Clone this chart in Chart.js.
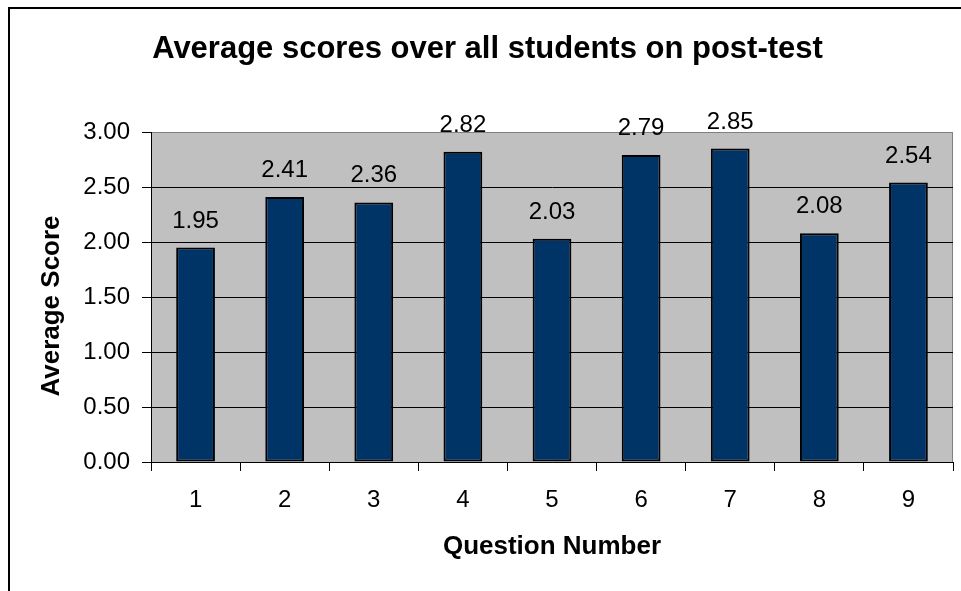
<!DOCTYPE html>
<html>
<head>
<meta charset="utf-8">
<title>Average scores over all students on post-test</title>
<script src="https://cdn.jsdelivr.net/npm/chart.js@4/dist/chart.umd.min.js"></script>
<style>
  html, body { margin: 0; padding: 0; background: #fff; }
  #chart { display: block; }
</style>
</head>
<body>
<canvas id="chart" width="961" height="591"></canvas>
<script>
// chart data
const questionNumbers = ['1', '2', '3', '4', '5', '6', '7', '8', '9'];
const averageScores = [1.95, 2.41, 2.36, 2.82, 2.03, 2.79, 2.85, 2.08, 2.54];
const scoreTicks = [0, 0.5, 1, 1.5, 2, 2.5, 3];

const chartTitle = 'Average scores over all students on post-test';
const xTitle = 'Question Number';
const yTitle = 'Average Score';

const FONT = "'Liberation Sans', Arial, sans-serif";

// grey plot area + outer chart border (Excel style)
const backdrop = {
    id: 'backdrop',
    beforeDraw(chart) {
        const ctx = chart.ctx;
        const a = chart.chartArea;
        ctx.save();
        ctx.fillStyle = '#fff';
        ctx.fillRect(0, 0, chart.width, chart.height);
        ctx.strokeStyle = '#000';
        ctx.lineWidth = 2;
        ctx.strokeRect(9, 8, chart.width + 50, chart.height + 50);
        ctx.fillStyle = '#c0c0c0';
        ctx.fillRect(a.left, a.top, a.right - a.left, a.bottom - a.top);
        ctx.strokeStyle = '#808080';
        ctx.lineWidth = 1;
        ctx.beginPath();
        ctx.moveTo(a.left, a.top + 0.5);
        ctx.lineTo(a.right - 0.5, a.top + 0.5);
        ctx.lineTo(a.right - 0.5, a.bottom);
        ctx.stroke();
        ctx.restore();
    }
};

// value labels above the bars and the y axis title
const labels = {
    id: 'labels',
    afterDatasetsDraw(chart) {
        const ctx = chart.ctx;
        const meta = chart.getDatasetMeta(0);
        ctx.save();
        ctx.fillStyle = '#000';
        ctx.font = '24px ' + FONT;
        ctx.textAlign = 'center';
        ctx.textBaseline = 'alphabetic';
        meta.data.forEach((bar, i) => {
            ctx.fillText(averageScores[i].toFixed(2), bar.x, bar.y - 20);
        });

        ctx.font = 'bold 26px ' + FONT;
        ctx.textBaseline = 'middle';
        ctx.translate(52, 306);
        ctx.rotate(-Math.PI / 2);
        ctx.fillText(yTitle, 0, 0);
        ctx.restore();
    }
};

new Chart(document.getElementById('chart'), {
    type: 'bar',
    data: {
        labels: questionNumbers,
        datasets: [{
            label: yTitle,
            data: averageScores,
            backgroundColor: '#003366',
            borderColor: '#000',
            borderWidth: 2,
            borderSkipped: false,
            categoryPercentage: 1,
            barPercentage: 0.435
        }]
    },
    options: {
        responsive: false,
        animation: false,
        // left padding only shifts the title centre; plot still starts at x=151
        layout: { padding: { left: 22, right: 8, top: 0, bottom: 0 } },
        plugins: {
            legend: { display: false },
            tooltip: { enabled: false },
            title: {
                display: true,
                text: chartTitle,
                color: '#000',
                font: { family: FONT, size: 31, weight: 'bold', lineHeight: 1.2 },
                padding: { top: 31, bottom: 63.8 }
            }
        },
        scales: {
            x: {
                grid: {
                    offset: true,
                    drawOnChartArea: false,
                    drawTicks: true,
                    tickLength: 9,
                    tickColor: '#000',
                    tickWidth: 1
                },
                border: { color: '#000', width: 1 },
                ticks: {
                    color: '#000',
                    padding: 15,
                    maxRotation: 0,
                    font: { family: FONT, size: 24, lineHeight: 1.2 }
                },
                title: {
                    display: true,
                    text: xTitle,
                    color: '#000',
                    font: { family: FONT, size: 26, weight: 'bold', lineHeight: 1.2 },
                    padding: { top: 0, bottom: 29 }
                },
                afterFit(scale) { scale.height = 129; }
            },
            y: {
                min: scoreTicks[0],
                max: scoreTicks[scoreTicks.length - 1],
                afterBuildTicks(scale) {
                    scale.ticks = scoreTicks.map(v => ({ value: v }));
                },
                grid: {
                    color: ctx => (ctx.tick && ctx.tick.value === 3) ? '#808080' : '#000',
                    lineWidth: 1,
                    drawTicks: true,
                    tickLength: 9,
                    tickColor: '#000'
                },
                border: { color: '#000', width: 1 },
                ticks: {
                    color: '#000',
                    padding: 12,
                    font: { family: FONT, size: 24, lineHeight: 1.2 },
                    callback: v => Number(v).toFixed(2)
                },
                afterFit(scale) { scale.width = 129; }
            }
        }
    },
    plugins: [backdrop, labels]
});
</script>
</body>
</html>
